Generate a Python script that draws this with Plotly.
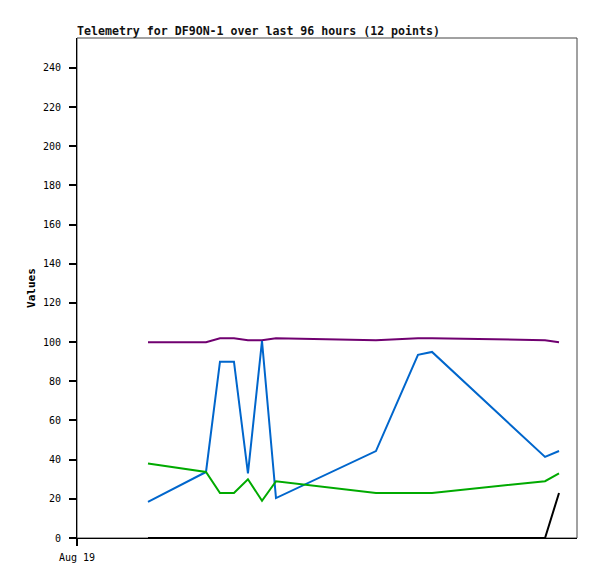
import plotly.graph_objects as go

times = ["2024-08-19 16:35", "2024-08-20 06:08", "2024-08-20 09:24", "2024-08-20 12:40",
         "2024-08-20 15:56", "2024-08-20 19:13", "2024-08-20 22:29", "2024-08-21 21:50",
         "2024-08-22 07:39", "2024-08-22 10:56", "2024-08-23 13:20", "2024-08-23 16:36"]
purple_vals = [100, 100, 102, 102, 101, 101, 102, 101, 102, 102, 101, 100]
blue_vals = [18.4, 33.7, 90, 90, 33, 100.6, 20.4, 44.4, 93.5, 95, 41.4, 44.4]
green_vals = [38, 33.7, 23, 23, 30, 19, 29, 23, 23, 23, 29, 33]
black_vals = [0, 0, 0, 0, 0, 0, 0, 0, 0, 0, 0, 23]

series = [
    (purple_vals, "#700070"),
    (blue_vals, "#0066cc"),
    (green_vals, "#00aa00"),
    (black_vals, "#000000"),
]

y_ticks = list(range(0, 241, 20))
x_range = ["2024-08-19 00:00", "2024-08-23 20:48"]
x_tickvals = ["2024-08-19 00:00"]
x_ticktext = ["Aug 19"]
y_range = [0, 255.3]

fig = go.Figure()
for vals, color in series:
    fig.add_trace(go.Scatter(x=times, y=vals, mode="lines",
                             line=dict(color=color, width=2), showlegend=False,
                             hoverinfo="skip"))

mono = "DejaVu Sans Mono"
W, H = 589, 571
fig.update_layout(
    width=W, height=H,
    margin=dict(l=69, r=20, t=30, b=41),
    paper_bgcolor="white", plot_bgcolor="white",
    title=dict(text="<b>Telemetry for DF9ON-1 over last 96 hours (12 points)</b>",
               x=69/W, xanchor="left", y=1-27/H, yanchor="bottom",
               font=dict(family=mono, size=11.6, color="#111111")),
    font=dict(family=mono, size=10, color="black"),
    xaxis=dict(type="date", range=x_range,
               tickvals=x_tickvals, ticktext=x_ticktext,
               showgrid=False, zeroline=False, showline=True, linecolor="black", linewidth=1,
               ticks="outside", ticklen=7, tickcolor="#000000", tickwidth=1.5,
               ticklabelstandoff=3,
               tickfont=dict(family=mono, size=10)),
    yaxis=dict(range=y_range, tickvals=y_ticks,
               showgrid=False, zeroline=False, showline=True, linecolor="black", linewidth=1,
               ticks="outside", ticklen=7, tickcolor="#000000", tickwidth=1.5,
               ticklabelstandoff=6,
               tickfont=dict(family=mono, size=10),
               title=dict(text="<b>Values</b>", font=dict(family=mono, size=11), standoff=5)),
    xaxis2=dict(type="date", range=x_range, overlaying="x", anchor="y", side="bottom",
                tickvals=x_tickvals, showticklabels=False, showgrid=False, zeroline=False,
                showline=False, ticks="outside", ticklen=7, tickcolor="#000000", tickwidth=1.5),
    yaxis2=dict(range=y_range, overlaying="y", anchor="x", side="left",
                tickvals=y_ticks, showticklabels=False, showgrid=False, zeroline=False,
                showline=False, ticks="outside", ticklen=7, tickcolor="#000000", tickwidth=1.5),
    shapes=[dict(type="rect", xref="paper", yref="paper", x0=0, x1=1, y0=0, y1=1,
                 line=dict(color="#444444", width=1), layer="below")],
)

fig.write_html("out.html")
